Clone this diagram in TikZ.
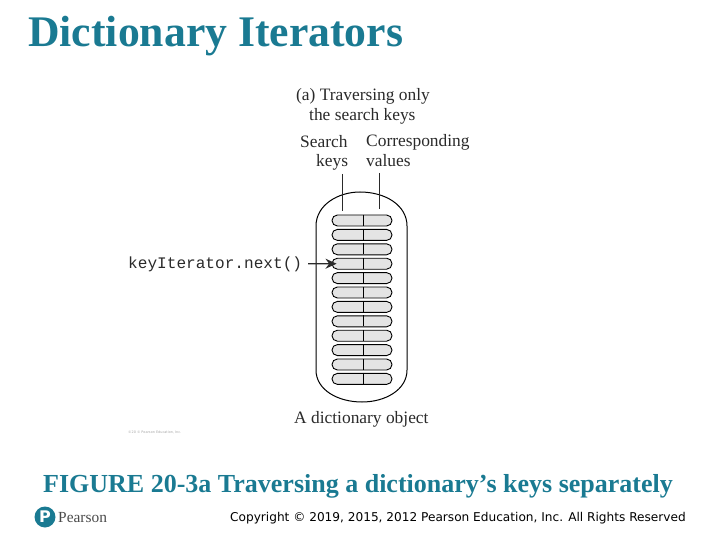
\documentclass[tikz,border=0pt]{standalone}
\usepackage{fontspec}
\setmainfont{Liberation Serif}
\setsansfont{DejaVu Sans}
\setmonofont{Liberation Mono}
\usetikzlibrary{arrows.meta}
\definecolor{pteal}{HTML}{1A7A92}
\definecolor{inkc}{HTML}{2A2A2A}
\definecolor{rowfill}{HTML}{E4E4E4}
\tikzset{
  lbl/.style={inner sep=0pt,anchor=base west,text=inkc,font=\fontsize{17.4}{19}\selectfont},
  rowbox/.style={draw=black,line width=0.9pt,fill=rowfill,rounded corners=5.4pt,minimum width=60pt,minimum height=11pt,inner sep=0pt},
  leader/.style={draw=inkc,line width=0.8pt},
}
\begin{document}
\begin{tikzpicture}[x=1pt,y=-1pt]
\useasboundingbox (0,0) rectangle (720,540);
\node[inner sep=0pt,anchor=base west,text=pteal,font=\fontsize{43.7}{46}\selectfont\bfseries] (title) at (28,47) {Dictionary Iterators};
\node[lbl] (a1) at (296,101) {(a) Traversing only};
\node[lbl] (a2) at (309,121) {the search keys};
\node[lbl] (sk1) at (300,148) {Search};
\node[lbl] (sk2) at (316,167) {keys};
\node[lbl] (cv1) at (366,147) {Corresponding};
\node[lbl] (cv2) at (366,167) {values};
% outer object
\draw[line width=1pt,draw=black] (316,370) -- (316,226)
  .. controls (316,205) and (338,192) .. (360,192)
  .. controls (385,192) and (407,205) .. (407,226)
  -- (407,370)
  .. controls (407,390) and (385,402) .. (362,402)
  .. controls (338,402) and (316,390) .. (316,370) -- cycle;
% rows
\foreach \i in {0,...,11}{
  \node[rowbox] (r\i) at (362,220.5+14.4*\i) {};
  \draw[line width=0.8pt] (r\i.north)++(1.5,0) -- ++(0,11);
}
\coordinate (kt) at (342,174);
\coordinate (vt) at (379,173);
\draw[leader] (kt) -- (342,211);
\draw[leader] (vt) -- (379,209);
\node[inner sep=0pt,anchor=base west,text=inkc,font=\ttfamily\fontsize{16.1}{18}\selectfont] (it) at (128,268) {keyIterator.next()};
\draw[line width=1.1pt,draw=inkc,-{Stealth[length=11pt,width=10pt]}] (308,263.7) -- ([xshift=5pt]r3.west);
\node[lbl] (obj) at (294,423) {A dictionary object};
\node[inner sep=0pt,anchor=base west,text=gray!70,font=\fontsize{3.4}{4}\selectfont\sffamily] (tiny) at (128,433) {©20 © Pearson Education, Inc.};
\node[inner sep=0pt,anchor=base west,text=pteal,font=\fontsize{26}{28}\selectfont\bfseries] (cap) at (43,492.5) {FIGURE 20-3a Traversing a dictionary’s keys separately};
\node[circle,fill=pteal,minimum size=21pt,inner sep=0pt,text=white,font=\sffamily\bfseries\fontsize{16}{16}\selectfont] (logo) at (45,517) {P};
\node[inner sep=0pt,anchor=base west,text=inkc!85,font=\fontsize{15.4}{17}\selectfont] (pn) at (58,522) {Pearson};
\node[inner sep=0pt,anchor=base west,text=black,font=\sffamily\fontsize{12.13}{14}\selectfont] (copy) at (230,521) {Copyright © 2019, 2015, 2012 Pearson Education, Inc. All Rights Reserved};
\end{tikzpicture}
\end{document}
